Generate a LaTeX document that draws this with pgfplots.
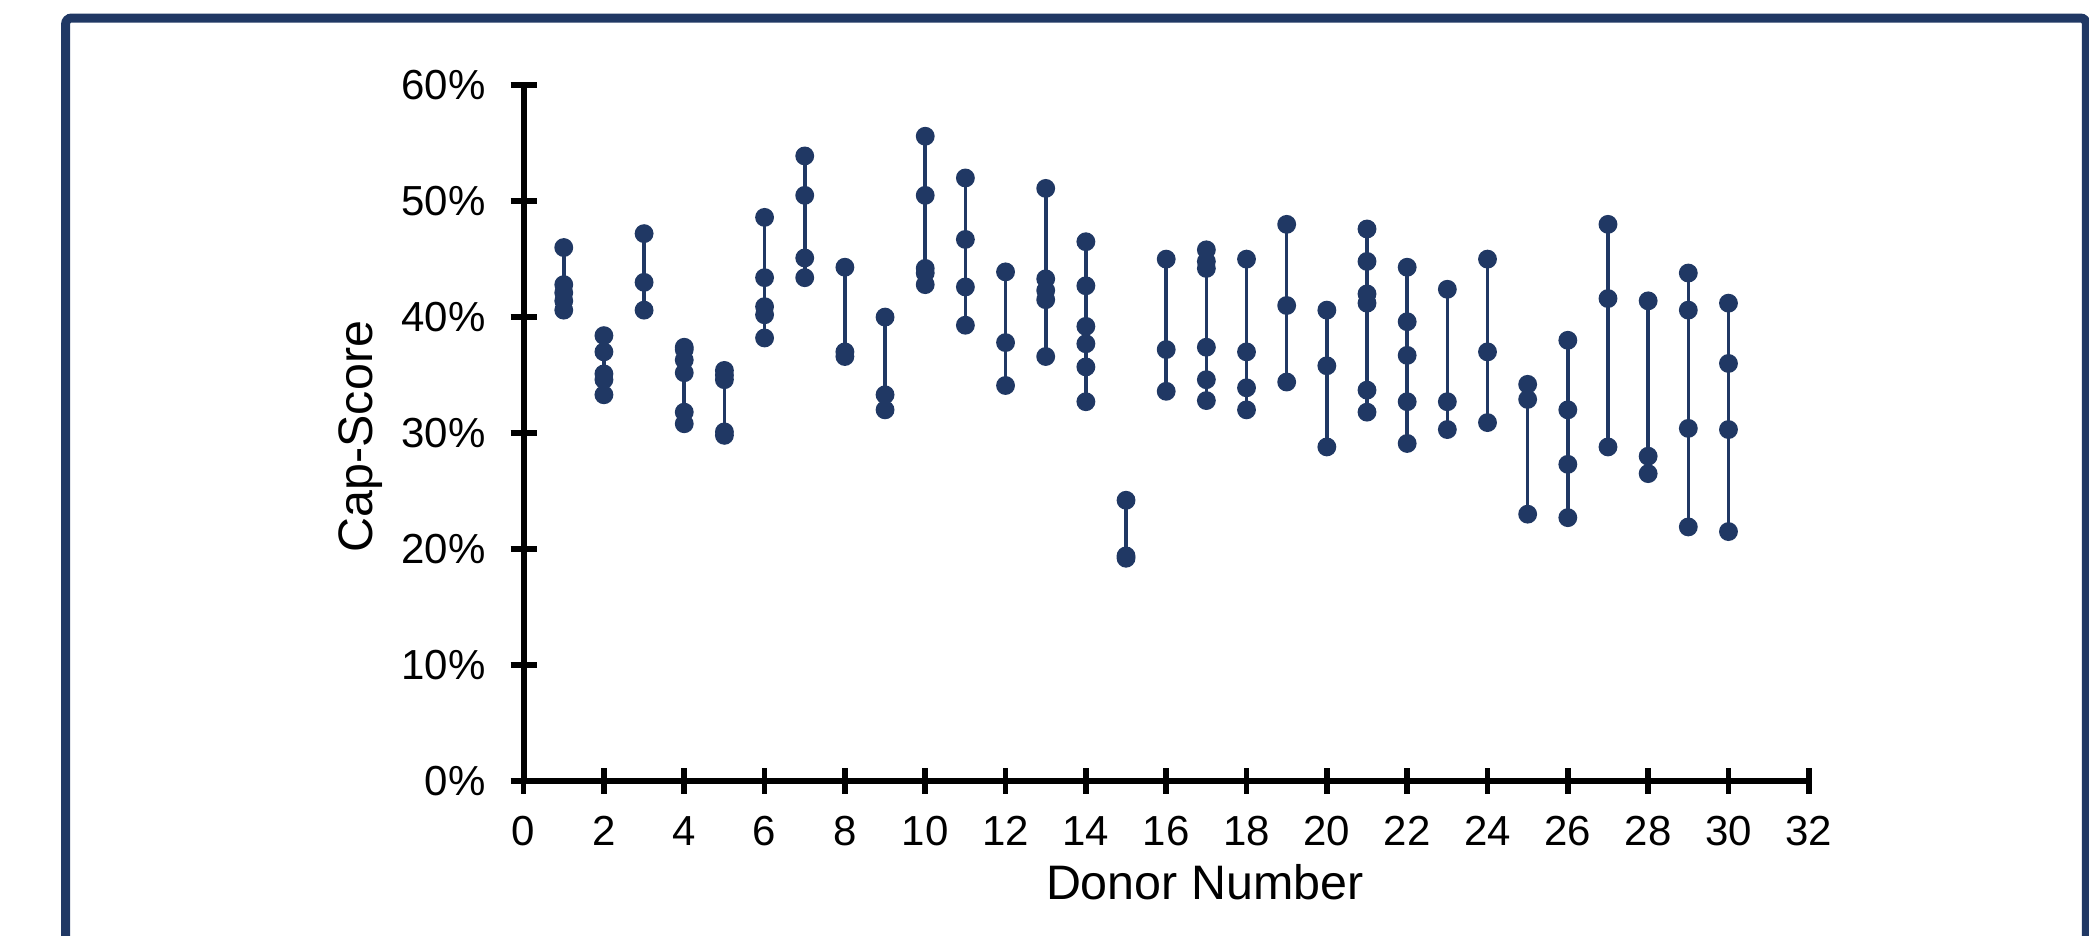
\documentclass[border=0pt]{standalone}
\usepackage{pgfplots}
\pgfplotsset{compat=1.18}
\usepackage{fontspec}
\setmainfont{Liberation Sans}
\definecolor{navy}{RGB}{32,56,100}
\begin{document}
\begin{tikzpicture}
\useasboundingbox (0pt,0pt) rectangle (522.25pt,-233.75pt);
\clip (0pt,0pt) rectangle (522.25pt,-233.75pt);
\draw[navy, line width=2.25pt, rounded corners=1.5pt] (16.4pt,-4.5pt) rectangle (521.6pt,-260pt);
\begin{axis}[
  at={(130.9pt,-195.2pt)}, anchor=south west,
  scale only axis, width=321.3pt, height=173.9pt,
  xmin=0, xmax=32, ymin=0, ymax=60,
  axis x line=bottom, axis y line=left,
  axis line style={-, line width=1.5pt, black},
  xtick={0,2,...,32}, ytick={0,10,...,60},
  tick align=center, major tick length=6.5pt,
  every tick/.style={black, line width=1.4pt},
  minor tick num=0,
  /pgf/number format/assume math mode=true,
  yticklabel={\pgfmathprintnumber{\tick}\%},
  ticklabel style={font=\fontsize{10.5}{12}\selectfont, inner sep=0pt},
  xticklabel style={anchor=center, yshift=-9.35pt},
  yticklabel style={anchor=east, xshift=-6.05pt},
  label style={font=\fontsize{12.1}{14}\selectfont},
  xlabel={Donor Number}, ylabel={Cap-Score},
  xlabel style={at={(axis description cs:0.530,-0.1456)}, anchor=center, inner sep=0pt},
  ylabel style={at={(axis description cs:-0.127,0.495)}, anchor=center, inner sep=0pt},
  clip=false,
  donor/.style={navy, line width=0.9pt, mark=*, mark size=1.9pt, mark options={fill=navy, draw=navy, solid}},
]
\addplot[donor] coordinates {(1,46.0) (1,42.8) (1,42.1) (1,41.4) (1,40.6)};
\addplot[donor] coordinates {(2,38.4) (2,37.0) (2,35.1) (2,34.6) (2,33.3)};
\addplot[donor] coordinates {(3,47.2) (3,43.0) (3,40.6)};
\addplot[donor] coordinates {(4,37.4) (4,37.2) (4,36.3) (4,35.2) (4,31.8) (4,30.8)};
\addplot[donor] coordinates {(5,35.4) (5,35.0) (5,34.6) (5,30.1) (5,29.8)};
\addplot[donor] coordinates {(6,48.6) (6,43.4) (6,40.9) (6,40.2) (6,38.2)};
\addplot[donor] coordinates {(7,53.9) (7,50.5) (7,45.1) (7,43.4)};
\addplot[donor] coordinates {(8,44.3) (8,37.0) (8,36.6)};
\addplot[donor] coordinates {(9,40.0) (9,33.3) (9,32.0)};
\addplot[donor] coordinates {(10,55.6) (10,50.5) (10,44.2) (10,43.8) (10,42.8)};
\addplot[donor] coordinates {(11,52.0) (11,46.7) (11,42.6) (11,39.3)};
\addplot[donor] coordinates {(12,43.9) (12,37.8) (12,34.1)};
\addplot[donor] coordinates {(13,51.1) (13,43.3) (13,42.3) (13,41.5) (13,36.6)};
\addplot[donor] coordinates {(14,46.5) (14,42.7) (14,39.2) (14,37.7) (14,35.7) (14,32.7)};
\addplot[donor] coordinates {(15,24.2) (15,19.4) (15,19.2)};
\addplot[donor] coordinates {(16,45.0) (16,37.2) (16,33.6)};
\addplot[donor] coordinates {(17,45.8) (17,44.8) (17,44.2) (17,37.4) (17,34.6) (17,32.8)};
\addplot[donor] coordinates {(18,45.0) (18,37.0) (18,33.9) (18,32.0)};
\addplot[donor] coordinates {(19,48.0) (19,41.0) (19,34.4)};
\addplot[donor] coordinates {(20,40.6) (20,35.8) (20,28.8)};
\addplot[donor] coordinates {(21,47.6) (21,44.8) (21,42.0) (21,41.2) (21,33.7) (21,31.8)};
\addplot[donor] coordinates {(22,44.3) (22,39.6) (22,36.7) (22,32.7) (22,29.1)};
\addplot[donor] coordinates {(23,42.4) (23,32.7) (23,30.3)};
\addplot[donor] coordinates {(24,45.0) (24,37.0) (24,30.9)};
\addplot[donor] coordinates {(25,34.2) (25,32.9) (25,23.0)};
\addplot[donor] coordinates {(26,38.0) (26,32.0) (26,27.3) (26,22.7)};
\addplot[donor] coordinates {(27,48.0) (27,41.6) (27,28.8)};
\addplot[donor] coordinates {(28,41.4) (28,28.0) (28,26.5)};
\addplot[donor] coordinates {(29,43.8) (29,40.6) (29,30.4) (29,21.9)};
\addplot[donor] coordinates {(30,41.2) (30,36.0) (30,30.3) (30,21.5)};
\end{axis}
\end{tikzpicture}
\end{document}
